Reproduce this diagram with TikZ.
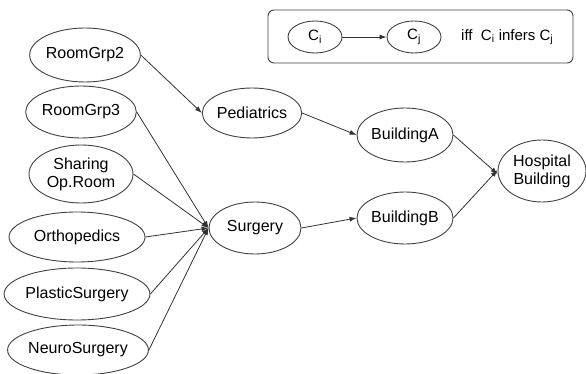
\documentclass[tikz,border=0pt]{standalone}
\usepackage{fontspec}
\setmainfont{Liberation Sans}
\usetikzlibrary{shapes.geometric,arrows.meta}
\begin{document}
\begin{tikzpicture}[x=1pt,y=-1pt,
  el/.style={ellipse, draw=black!75, line width=0.9pt, inner sep=0pt, align=center,
    font=\fontsize{16}{18}\selectfont},
  arr/.style={draw=black!80, line width=0.8pt, -{Latex[length=7pt,width=5pt]}},
  legbox/.style={draw=black!75, line width=0.9pt, rounded corners=6pt},
  lbl/.style={font=\fontsize{15}{18}\selectfont, inner sep=0pt}]
\useasboundingbox (0,0) rectangle (586,374);
% legend
\draw[legbox] (268,10) rectangle (573,63);
\node[el, minimum width=54pt, minimum height=32pt, font=\fontsize{15}{18}\selectfont] (ci) at (315,37) {C\textsubscript{i}};
\node[el, minimum width=54pt, minimum height=32pt, font=\fontsize{15}{18}\selectfont] (cj) at (414,37) {C\textsubscript{j}};
\node[lbl, anchor=west] (legtxt) at (461,37) {iff\ \ C\textsubscript{i} infers C\textsubscript{j}};
\draw[arr] (ci) -- (cj);
% nodes
\node[el, minimum width=96pt, minimum height=54pt] (rg2) at (85,55) {RoomGrp2};
\node[el, minimum width=96pt, minimum height=52pt] (rg3) at (81,112) {RoomGrp3};
\node[el, minimum width=104pt, minimum height=58pt] (sor) at (81,174) {Sharing\\Op.Room};
\node[el, minimum width=136pt, minimum height=50pt] (orth) at (77,237) {Orthopedics};
\node[el, minimum width=136pt, minimum height=52pt] (plas) at (77,294) {PlasticSurgery};
\node[el, minimum width=116pt, minimum height=50pt] (neur) at (78,350) {NeuroSurgery};
\node[el, minimum width=94pt, minimum height=50pt] (ped) at (252,113) {Pediatrics};
\node[el, minimum width=92pt, minimum height=52pt] (surg) at (255,228) {Surgery};
\node[el, minimum width=96pt, minimum height=54pt] (bA) at (405,135) {BuildingA};
\node[el, minimum width=96pt, minimum height=52pt] (bB) at (405,218) {BuildingB};
\node[el, minimum width=88pt, minimum height=62pt] (hosp) at (542,171) {Hospital\\Building};
% edges
\draw[arr] (rg2.east) -- (ped.west);
\draw[arr] (ped.east) -- (bA.west);
\draw[arr] (surg.east) -- (bB.west);
\draw[arr] (bA.east) -- ([yshift=-3pt]hosp.west);
\draw[arr] (bB.east) -- ([yshift=1pt]hosp.west);
\foreach \n in {rg3,sor,orth,plas,neur}
  \draw[arr] (\n.east) -- (surg.west);
\end{tikzpicture}
\end{document}
